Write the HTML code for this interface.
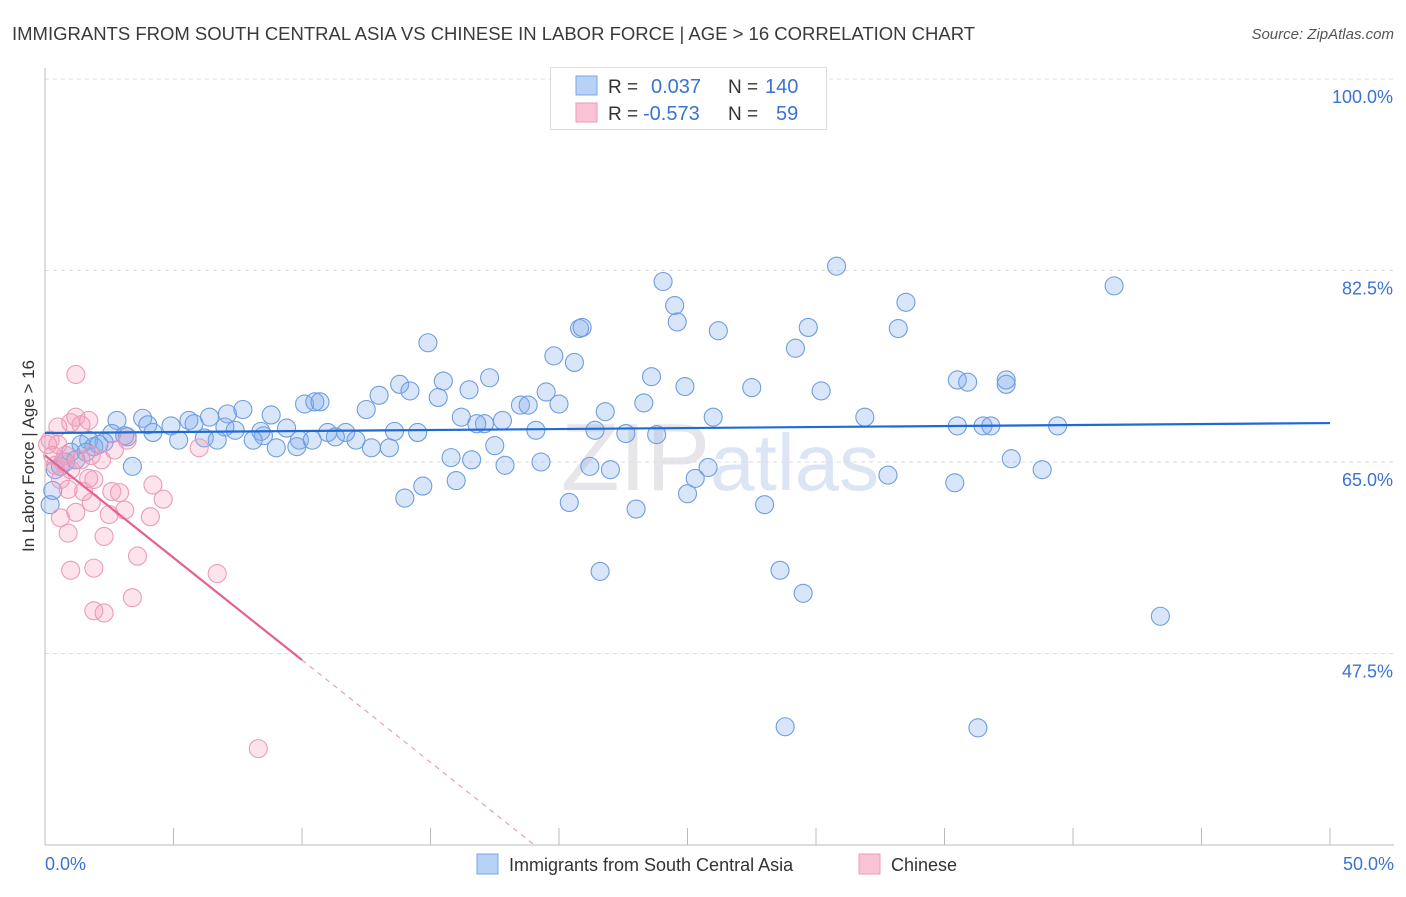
<!DOCTYPE html>
<html><head><meta charset="utf-8"><style>
body{margin:0;background:#fff;font-family:"Liberation Sans",sans-serif;}
svg text{font-family:"Liberation Sans",sans-serif;}
</style></head><body>
<svg id="chart" width="1406" height="892" viewBox="0 0 1406 892">
<text x="12" y="40" font-size="18.5" fill="#3a3a3a">IMMIGRANTS FROM SOUTH CENTRAL ASIA VS CHINESE IN LABOR FORCE | AGE &gt; 16 CORRELATION CHART</text>
<text x="1394" y="39" font-size="15" fill="#555" font-style="italic" text-anchor="end">Source: ZipAtlas.com</text>
<text x="720" y="490" font-size="96" fill="#e6e6ea" text-anchor="middle" font-family="Liberation Serif">ZIP<tspan fill="#dbe5f3" font-family="Liberation Sans" font-size="80">atlas</tspan></text>
<g id="grid"></g>
<g id="axes"></g>
<g id="pts"></g>
<g id="lines"></g>
<text transform="translate(34,456) rotate(-90)" font-size="17" fill="#333" text-anchor="middle">In Labor Force | Age &gt; 16</text>
<text x="45" y="870" font-size="18" fill="#3b73d1">0.0%</text>
<text x="1394" y="870" font-size="18" fill="#3b73d1" text-anchor="end">50.0%</text>
<g>
<rect x="550.5" y="67.5" width="276" height="62" fill="#fff" stroke="#ddd"/>
<rect x="576" y="76" width="21" height="19" fill="#b8d2f5" stroke="#7aa7e6"/>
<rect x="576" y="103" width="21" height="19" fill="#f8c4d5" stroke="#ec9ab6"/>
<text x="608" y="93" font-size="19" fill="#333">R = </text><text x="651" y="93" font-size="20" fill="#3b73d1">0.037</text>
<text x="728" y="93" font-size="19" fill="#333">N = </text><text x="765" y="93" font-size="20" fill="#3b73d1">140</text>
<text x="608" y="120" font-size="19" fill="#333">R = </text><text x="643" y="120" font-size="20" fill="#3b73d1">-0.573</text>
<text x="728" y="120" font-size="19" fill="#333">N = </text><text x="776" y="120" font-size="20" fill="#3b73d1">59</text>
</g>
<g>
<rect x="477" y="854" width="21" height="20" fill="#b8d2f5" stroke="#7aa7e6"/>
<text x="509" y="871" font-size="18" fill="#333">Immigrants from South Central Asia</text>
<rect x="859" y="854" width="21" height="20" fill="#f8c4d5" stroke="#ec9ab6"/>
<text x="891" y="871" font-size="18" fill="#333">Chinese</text>
</g>
</svg>
<script>
const yTicks=[47.5,65,82.5,100];
const yTickLabels=["47.5%","65.0%","82.5%","100.0%"];
const xTicks=[0,5,10,15,20,25,30,35,40,45,50];
const blueX=[24.05,30.8,41.6,33.5,24.5,24.6,20.8,20.9,26.2,29.7,33.2,14.9,29.2,19.8,20.6,23.6,15.5,17.3,24.9,27.5,30.2,35.5,35.9,37.4,37.4,13.8,13.0,14.2,16.5,19.5,15.3,12.5,10.1,10.5,10.7,18.5,18.8,20.0,23.3,21.8,16.2,17.8,31.9,26.0,7.7,8.8,7.1,6.4,5.6,3.8,2.8,4.0,4.9,5.8,7.0,9.4,8.4,11.0,11.7,8.5,7.4,9.9,2.6,1.7,2.3,3.1,4.2,5.2,6.2,6.7,8.1,9.0,9.8,10.4,11.3,12.1,12.7,13.4,13.6,14.5,17.1,16.8,19.1,21.4,22.6,23.8,35.5,36.5,36.8,39.4,17.5,15.8,16.6,17.9,19.3,21.2,22.0,25.8,25.3,32.8,37.6,38.8,16.0,14.7,14.0,25.0,20.4,23.0,28.0,35.4,21.6,28.6,29.5,43.4,28.8,36.3,3.4,1.9,1.4,1.0,0.8,0.6,0.4,0.3,0.2,1.2,1.6,2.1,3.2];
const blueY=[81.5,82.9,81.1,79.6,79.3,77.8,77.2,77.3,77.0,77.3,77.2,75.9,75.4,74.7,74.1,72.8,72.4,72.7,71.9,71.8,71.5,72.5,72.3,72.5,72.1,72.1,71.1,71.5,71.6,71.4,70.9,69.8,70.3,70.5,70.5,70.2,70.2,70.3,70.4,69.6,69.1,68.8,69.1,69.1,69.8,69.3,69.4,69.1,68.8,69.0,68.8,68.4,68.3,68.5,68.2,68.1,67.8,67.7,67.7,67.4,67.9,67.0,67.6,67.0,66.8,67.4,67.7,67.0,67.2,67.0,67.0,66.3,66.4,67.0,67.3,67.0,66.3,66.3,67.8,67.7,68.5,68.5,67.9,67.9,67.6,67.5,68.3,68.3,68.3,68.3,66.5,65.4,65.2,64.7,65.0,64.6,64.3,64.5,63.5,63.8,65.3,64.3,63.3,62.8,61.7,62.1,61.3,60.7,61.1,63.1,55.0,55.1,53.0,50.9,40.8,40.7,64.6,66.4,66.6,65.9,65.0,64.6,64.3,62.4,61.1,65.2,65.9,66.6,67.3];
const pinkX=[1.2,1.2,1.4,0.5,1.0,3.2,6.0,2.2,1.7,1.9,2.6,4.2,4.6,1.5,1.8,1.2,3.1,4.1,2.5,0.6,0.9,2.3,3.6,1.0,1.9,6.7,3.4,1.9,2.3,8.3,0.2,0.3,0.4,0.8,0.1,0.5,0.7,1.0,1.4,1.8,0.6,0.9,2.9,2.7,1.7];
const pinkY=[73.0,69.1,68.4,68.2,68.6,67.0,66.3,65.2,63.5,63.4,62.3,62.9,61.6,62.3,61.3,60.4,60.6,60.0,60.2,59.9,58.5,58.2,56.4,55.1,55.3,54.8,52.6,51.4,51.2,38.8,67.0,65.6,64.7,65.6,66.6,66.6,65.0,64.3,65.2,65.6,63.4,62.5,62.2,66.1,68.8];
const blueLine=[67.65,68.56];
const pinkLine=[65.6,-1.87];
const NS="http://www.w3.org/2000/svg";
const X0=45,X1=1330,YB=845;
function xs(v){return X0+(X1-X0)*v/50;}
function ys(v){return 462-(v-65)*10.94;}
function mk(tag,attrs,parent){const e=document.createElementNS(NS,tag);for(const k in attrs)e.setAttribute(k,attrs[k]);document.getElementById(parent).appendChild(e);return e;}
yTicks.forEach((t,i)=>{
  const g=mk('line',{x1:X0,x2:1394,y1:ys(t),y2:ys(t),stroke:'#ddd','stroke-dasharray':'4,4'},'grid');
  
  
  const l=mk('text',{x:1393,y:ys(t)+24,'font-size':18,fill:'#3b73d1','text-anchor':'end'},'grid');
  l.textContent=yTickLabels[i];
  
  
});
const ax=mk('line',{x1:X0,x2:X0,y1:68,y2:YB,stroke:'#bbb'},'axes');


const bx=mk('line',{x1:X0,x2:1394,y1:YB,y2:YB,stroke:'#bbb'},'axes');


xTicks.forEach(t=>{
  const k=mk('line',{x1:xs(t),x2:xs(t),y1:828,y2:YB,stroke:'#bbb'},'axes');
  
  
});
blueX.forEach((v,i)=>{
  const c=mk('circle',{cx:xs(v),cy:ys(blueY[i]),r:9,fill:'rgba(130,172,238,0.3)',stroke:'#6f9ddf','stroke-width':1.1},'pts');
  
  
});
pinkX.forEach((v,i)=>{
  const c=mk('circle',{cx:xs(v),cy:ys(pinkY[i]),r:9,fill:'rgba(245,155,185,0.28)',stroke:'#ec9bb8','stroke-width':1.1},'pts');
  
  
});
const bl=mk('line',{x1:xs(0),y1:ys(blueLine[0]),x2:xs(50),y2:ys(blueLine[1]),stroke:'#1f6bd6','stroke-width':2.2},'lines');


const pe=10,pd=(30-pinkLine[0])/pinkLine[1];
const pl=mk('line',{x1:xs(0),y1:ys(pinkLine[0]),x2:xs(pe),y2:ys(pinkLine[0]+pinkLine[1]*pe),stroke:'#e8608f','stroke-width':2.2},'lines');


const pdl=mk('line',{x1:xs(pe),y1:ys(pinkLine[0]+pinkLine[1]*pe),x2:xs(pd),y2:ys(30),stroke:'#e8a0b8','stroke-width':1.2,'stroke-dasharray':'5,5'},'lines');


</script>
</body></html>
